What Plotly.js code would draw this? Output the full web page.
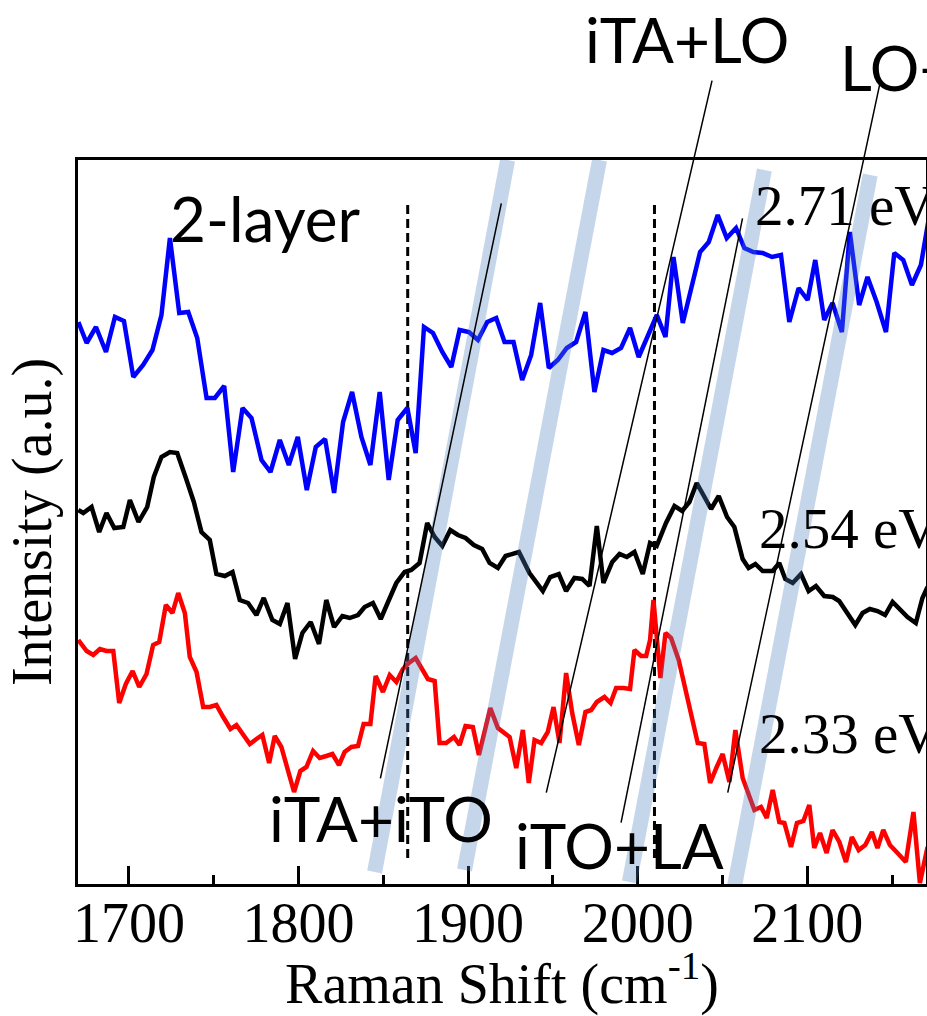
<!DOCTYPE html>
<html>
<head>
<meta charset="utf-8">
<script src="https://cdn.plot.ly/plotly-3.0.1.min.js"></script>
<style>html,body{margin:0;padding:0;background:#fff;}</style>
</head>
<body>
<div id="chart" style="width:927px;height:1016px;"></div>
<script>
// ---- Data (Raman shift in cm^-1, intensity in arbitrary units) ----
const x271 = [1670.2,1675.1,1680.6,1686.5,1691.8,1697.1,1702.6,1708.4,1713.9,1719.2,
1724.2,1729.7,1735.0,1740.3,1745.8,1750.7,1756.2,1761.5,1767.0,1772.3,
1778.2,1783.5,1789.0,1794.3,1799.6,1804.9,1810.2,1815.7,1821.0,1826.3,
1831.6,1837.1,1842.4,1847.9,1853.2,1858.5,1864.2,1869.1,1874.0,1879.3,
1884.8,1890.1,1895.0,1900.5,1905.8,1911.3,1916.6,1921.5,1926.8,1931.9,
1937.2,1942.5,1947.6,1952.9,1958.2,1963.7,1969.2,1974.5,1979.8,1984.9,
1990.2,1995.5,2000.6,2005.9,2011.3,2016.4,2021.1,2026.6,2031.5,2036.8,
2041.9,2047.2,2052.5,2058.0,2062.9,2068.2,2073.7,2079.2,2084.5,2089.4,
2094.9,2100.2,2104.7,2110.0,2114.9,2120.4,2125.1,2130.6,2135.5,2140.9,
2146.4,2151.3,2156.6,2161.7,2167.0,2172.3];
const y271 = [562,541,557,532,567,563,507,519,534,569,
646,571,572,546,486,486,498,412,476,466,
424,412,444,419,447,394,437,445,391,462,
492,447,419,492,404,464,476,431,557,551,
532,517,554,552,544,562,566,542,542,504,
529,581,516,524,536,542,572,492,534,531,
536,556,527,547,569,547,627,561,596,632,
642,669,646,656,636,632,631,627,629,562,
596,584,624,564,581,552,652,579,607,582,
552,631,624,599,619,672];

const x254 = [1670.2,1673.1,1678.0,1682.5,1686.8,1691.4,1696.7,1700.6,1705.7,1710.8,
1714.7,1719.2,1724.2,1728.5,1733.6,1738.3,1742.8,1747.7,1751.6,1756.6,
1761.1,1765.4,1770.3,1775.2,1779.5,1784.6,1789.0,1793.5,1798.0,1802.3,
1807.2,1812.1,1816.4,1821.0,1825.9,1830.2,1835.1,1839.0,1843.9,1848.5,
1852.8,1857.7,1862.6,1866.5,1871.4,1875.9,1880.3,1884.8,1889.5,1894.0,
1898.5,1903.4,1908.3,1912.7,1917.6,1922.1,1930.0,1936.2,1944.1,1948.4,
1953.5,1957.8,1962.7,1967.3,1971.6,1975.9,1979.8,1985.0,1989.3,1993.6,
1998.1,2003.0,2007.3,2011.2,2016.7,2021.7,2026.2,2030.5,2034.8,2039.3,
2043.3,2047.8,2052.7,2057.0,2061.9,2065.4,2069.4,2073.7,2079.6,2083.5,
2087.0,2091.4,2096.3,2100.8,2105.1,2110.0,2115.0,2118.8,2123.8,2128.3,
2132.6,2136.9,2141.4,2145.9,2150.3,2154.6,2159.1,2164.0,2167.9,2170.9];
const y254 = [374,371,377,352,371,356,357,384,362,377,
407,427,432,431,406,382,352,344,310,308,
312,284,281,269,286,264,260,281,225,251,
262,240,284,257,268,266,269,277,281,265,
282,301,312,314,321,361,347,338,354,349,
346,339,335,321,316,328,332,311,293,307,
310,293,306,305,298,358,301,322,330,327,
332,310,341,338,361,378,373,382,401,386,
375,388,367,357,325,316,320,313,313,321,
305,301,310,293,298,288,287,283,271,259,
271,275,273,269,282,275,267,261,286,297];

const x233 = [1670.2,1675.1,1679.0,1682.9,1686.8,1690.8,1694.3,1698.2,1702.2,1706.1,
1710.4,1714.3,1717.9,1721.8,1725.7,1729.1,1733.0,1735.9,1739.9,1743.8,
1747.7,1751.6,1755.6,1759.9,1763.4,1767.0,1771.3,1775.2,1778.7,1782.7,
1786.0,1789.9,1793.9,1797.4,1801.1,1804.7,1808.6,1812.5,1816.4,1820.0,
1823.9,1827.2,1831.2,1835.1,1838.4,1842.4,1845.5,1849.8,1853.8,1857.7,
1861.6,1865.1,1869.1,1873.0,1876.3,1880.3,1883.2,1887.1,1891.7,1895.0,
1898.5,1902.8,1906.4,1913.1,1917.6,
1924.5,1928.4,1932.3,1935.8,1939.2,1943.1,1947.0,1950.4,1953.9,1957.8,
1961.4,1965.3,1969.2,1972.6,1975.9,1980.4,1984.0,1987.3,1991.6,1995.5,
1998.1,2002.0,2005.0,2007.3,2009.3,2011.3,2013.4,2016.4,2019.7,2024.2,
2028.5,2032.5,2035.4,2039.3,2042.7,2046.6,2050.1,2054.1,2057.6,2061.9,
2065.5,2068.8,2072.7,2076.1,2079.6,2083.5,2086.5,2090.4,2093.9,2097.7,
2101.2,2104.1,2107.5,2111.4,2114.9,2118.9,2122.8,2126.3,2130.3,2134.2,
2138.1,2141.4,2144.8,2148.7,2153.2,2158.1,2162.6,2166.4,2170.9];
const y233 = [244,233,229,235,233,233,181,200,213,197,
210,239,242,279,271,291,271,227,212,177,
177,179,167,155,159,151,140,145,149,121,
148,137,112,92,113,117,133,126,128,130,
119,132,137,138,160,160,208,192,209,202,
215,221,226,214,205,203,141,141,147,139,
158,157,129,176,156,
147,116,154,101,144,141,152,177,141,211,
171,139,172,174,182,187,181,196,196,195,
234,228,228,244,284,244,206,251,246,224,
191,161,141,140,101,117,130,102,154,106,
90,74,77,66,94,62,61,37,61,63,
79,36,51,31,54,42,22,47,34,39,
52,36,54,39,31,22,72,1,37];

const seriesNames = ['2.71 eV', '2.54 eV', '2.33 eV'];
const xTickVals = [1700, 1800, 1900, 2000, 2100];
const xTickText = ['1700', '1800', '1900', '2000', '2100'];
const xMinorVals = [1750, 1850, 1950, 2050, 2150];

// Guide positions (data units): dashed markers, shaded dispersion bands, leader lines
const dashedX = [1864.4, 2009.9];
const bands = [[1844.9, 12, 1923.3, 724], [1897.9, 14, 1977.5, 724], [1995.1, 2, 2074.7, 714], [2057.0, -3, 2137.1, 709]];
const leaders = [[1848.3, 105.7, 1919.6, 680.7], [1990.2, 61.3, 2061.8, 665.7]];
// leader lines that run up to labels above the frame: head (data) + tail offset (px)
const leadersOut = [[1946.1, 91.3, 166, -713], [2053.1, 91.3, 153, -713]];

const serif = 'Liberation Serif, Times New Roman, serif';
const sans = 'Lato, Open Sans, sans-serif';

const traces = [
  {x: x271, y: y271, name: seriesNames[0], mode: 'lines', line: {color: '#0000ff', width: 4.5}},
  {x: x254, y: y254, name: seriesNames[1], mode: 'lines', line: {color: '#000000', width: 4.5}},
  {x: x233, y: y233, name: seriesNames[2], mode: 'lines', line: {color: '#ff0000', width: 4.5}}
];

const shapes = [];
dashedX.forEach(function (xv) {
  shapes.push({type: 'line', xref: 'x', yref: 'y', x0: xv, x1: xv, y0: 26, y1: 681,
    layer: 'below', line: {color: 'black', width: 3, dash: '9px,5px'}});
});
bands.forEach(function (b) {
  shapes.push({type: 'line', xref: 'x', yref: 'y', x0: b[0], y0: b[1], x1: b[2], y1: b[3],
    layer: 'above', line: {color: 'rgba(79,129,189,0.32)', width: 15}});
});
leaders.forEach(function (l) {
  shapes.push({type: 'line', xref: 'x', yref: 'y', x0: l[0], y0: l[1], x1: l[2], y1: l[3],
    layer: 'above', line: {color: 'black', width: 1.5}});
});

const annotations = [];
leadersOut.forEach(function (l) {
  annotations.push({x: l[0], y: l[1], xref: 'x', yref: 'y', ax: l[2], ay: l[3],
    text: ' ', showarrow: true, arrowhead: 0, arrowwidth: 1.5, arrowcolor: 'black',
    standoff: 0, startstandoff: 0, borderpad: 0, font: {size: 1}});
});
function label(text, px, py, family, size) {
  annotations.push({text: text, xref: 'paper', yref: 'paper', x: px, y: py,
    xanchor: 'left', yanchor: 'middle', showarrow: false,
    font: {family: family, size: size, color: 'black'}});
}
label('2-layer', 0.1061, 0.9192, sans, 62);
label('iTA+LO', 0.5955, 1.1671, sans, 62);
label('LO+LA', 0.8962, 1.1285, sans, 62);
label('iTA+iTO', 0.2229, 0.0912, sans, 62);
label('iTO+LA', 0.5130, 0.0539, sans, 62);
label(seriesNames[0], 0.7960, 0.9365, serif, 57);
label(seriesNames[1], 0.8007, 0.4917, serif, 57);
label(seriesNames[2], 0.8007, 0.2072, serif, 57);

const layout = {
  width: 927, height: 1016,
  margin: {l: 78, r: 1, t: 160, b: 132, pad: 0},
  paper_bgcolor: '#ffffff', plot_bgcolor: '#ffffff',
  showlegend: false,
  xaxis: {
    range: [1670, 2170], tickmode: 'array', tickvals: xTickVals, ticktext: xTickText,
    ticks: 'inside', ticklen: 18, tickwidth: 3, tickcolor: 'black',
    minor: {tickmode: 'array', tickvals: xMinorVals, ticks: 'inside', ticklen: 9, tickwidth: 3, tickcolor: 'black'},
    showline: true, linewidth: 3, linecolor: 'black', mirror: true,
    showgrid: false, zeroline: false,
    ticklabelstandoff: -12,
    tickfont: {family: serif, size: 56, color: 'black'},
    title: {text: 'Raman Shift (cm<sup>-1</sup>)', font: {family: serif, size: 56, color: 'black'}, standoff: 16}
  },
  yaxis: {
    range: [0, 724], showticklabels: false, ticks: '',
    showline: true, linewidth: 3, linecolor: 'black', mirror: true,
    showgrid: false, zeroline: false,
    title: {text: 'Intensity (a.u.)', font: {family: serif, size: 56, color: 'black'}, standoff: 6}
  },
  shapes: shapes,
  annotations: annotations
};

Plotly.newPlot('chart', traces, layout, {displayModeBar: false, staticPlot: true});
</script>
</body>
</html>
